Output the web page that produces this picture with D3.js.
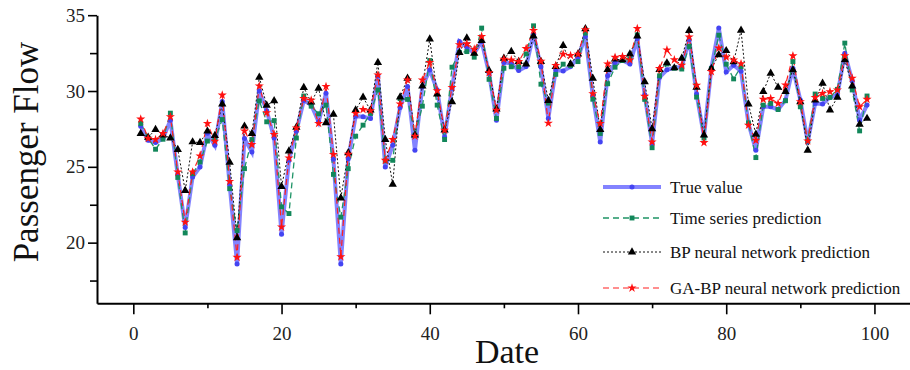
<!DOCTYPE html>
<html>
<head>
<meta charset="utf-8">
<script src="https://cdn.jsdelivr.net/npm/d3@7"></script>
<style>
  html, body { margin: 0; padding: 0; background: #fff; }
  svg { display: block; }
</style>
</head>
<body>
<div id="chart"></div>
<script>
// passenger flow per date
const dates = d3.range(1, 100);

const trueValue = [
  27.68, 26.75, 26.6, 26.87, 28.08, 24.47, 21.0, 24.33, 24.99, 27.22,
  26.42, 29.3, 23.8, 18.59, 26.87, 25.98, 30.0, 28.7, 26.9, 20.55,
  25.43, 27.35, 29.38, 29.1, 27.97, 29.85, 25.5, 18.59, 25.54, 28.34,
  28.3, 28.19, 30.99, 24.99, 26.42, 28.92, 30.29, 26.09, 30.29, 31.39,
  30.07, 26.97, 30.18, 33.27, 32.89, 32.49, 33.27, 31.17, 28.08, 31.88,
  31.83, 31.35, 31.61, 33.75, 31.6, 28.19, 31.39, 31.32, 31.61, 32.21,
  33.6, 29.7, 26.64, 31.0, 31.86, 32.01, 31.78, 33.45, 29.73, 26.53,
  30.9, 31.4, 31.53, 31.58, 33.4, 29.8, 27.0, 31.53, 34.15, 31.26,
  31.7, 31.3, 27.86, 26.09, 28.96, 28.96, 28.78, 29.4, 31.5, 29.4,
  26.64, 29.18, 29.14, 29.58, 29.73, 32.49, 30.68, 28.08, 29.07
];

const timeSeries = [
  27.86, 26.9, 26.16, 26.82, 28.54, 24.3, 20.64, 24.55, 25.32, 26.7,
  26.8, 28.12, 23.56, 20.8, 24.88, 26.8, 29.35, 27.97, 28.05, 22.36,
  21.92, 26.9, 29.67, 29.0, 28.5, 29.07, 24.5, 21.68, 24.88, 27.02,
  27.75, 28.52, 30.07, 25.39, 25.43, 29.5, 29.45, 27.09, 29.0, 32.01,
  29.07, 26.8, 31.57, 32.54, 32.6, 32.23, 34.15, 30.77, 28.19, 31.5,
  31.6, 31.6, 32.45, 34.3, 30.45, 29.2, 31.1, 31.77, 31.68, 31.94,
  33.82, 29.46, 27.2, 30.48, 31.57, 32.01, 32.1, 33.7, 29.45, 26.26,
  31.0, 31.78, 31.5, 31.45, 32.94, 29.6, 26.9, 31.48, 33.68, 31.77,
  30.8, 31.6, 27.9, 25.61, 29.07, 29.18, 28.78, 29.36, 31.94, 28.96,
  26.7, 29.8, 29.51, 29.58, 30.11, 33.16, 30.07, 27.37, 29.67
];

const bpNetwork = [
  27.2, 26.95, 27.46, 27.1, 26.9, 26.14, 23.44, 26.64, 26.6, 27.35,
  27.06, 29.14, 25.3, 20.31, 27.68, 27.2, 30.9, 29.05, 29.35, 23.7,
  26.04, 27.6, 30.22, 29.27, 30.18, 27.9, 28.46, 22.94, 25.92, 28.74,
  29.58, 28.74, 31.88, 26.8, 23.84, 29.6, 30.84, 27.09, 30.33, 33.42,
  29.8, 27.42, 29.29, 32.54, 33.49, 32.49, 33.33, 31.35, 28.8, 32.16,
  32.6, 31.94, 31.78, 33.62, 31.94, 29.37, 31.61, 33.0, 31.77, 32.43,
  34.1, 30.84, 27.45, 31.41, 32.1, 32.05, 32.44, 33.62, 30.6, 27.5,
  31.41, 31.85, 31.52, 32.16, 33.98, 30.25, 27.1, 31.48, 32.38, 32.66,
  31.92, 34.0, 29.14, 27.15, 29.96, 31.17, 30.24, 29.96, 31.39, 29.29,
  26.09, 29.4, 30.51, 28.74, 29.58, 32.05, 30.33, 27.81, 28.19
];

const gaBpNetwork = [
  28.15, 26.88, 26.8, 27.2, 28.3, 24.66, 21.35, 24.66, 25.72, 27.86,
  26.69, 29.73, 24.04, 19.03, 27.37, 26.47, 30.33, 28.57, 27.14, 21.03,
  25.58, 27.57, 29.5, 29.4, 27.86, 30.3, 25.82, 19.07, 25.83, 28.52,
  28.78, 28.7, 31.06, 25.43, 26.8, 29.15, 30.73, 27.02, 30.73, 31.88,
  30.02, 27.42, 30.24, 33.05, 33.11, 32.76, 33.6, 31.21, 28.74, 32.1,
  32.05, 31.94, 32.8, 34.0, 31.96, 27.88, 31.68, 32.43, 32.34, 32.43,
  34.04, 29.82, 27.86, 31.78, 32.22, 32.27, 32.05, 34.12, 29.65, 26.64,
  31.48, 32.71, 32.06, 31.7, 33.56, 30.38, 26.6, 31.28, 32.83, 32.24,
  32.05, 31.8, 27.75, 26.75, 29.45, 29.51, 29.18, 30.4, 32.32, 29.29,
  26.71, 29.58, 29.84, 29.96, 30.07, 32.32, 30.84, 28.96, 29.45
];

const xTicks = [0, 20, 40, 60, 80, 100];
const xMinorTicks = [10, 30, 50, 70, 90];
const yTicks = [20, 25, 30, 35];
const yMinorTicks = [17.5, 22.5, 27.5, 32.5];

const series = [
  { name: "True value", values: trueValue, line: "rgba(100,100,255,0.8)", width: 4, dash: null, mark: "circle", fill: "#4444f2" },
  { name: "Time series prediction", values: timeSeries, line: "#1f9466", width: 1.3, dash: "6,4", mark: "square", fill: "#12875a" },
  { name: "BP neural network prediction", values: bpNetwork, line: "#111", width: 1, dash: "2,2", mark: "triangle", fill: "#000" },
  { name: "GA-BP neural network prediction", values: gaBpNetwork, line: "#ff2020", width: 1.2, dash: "6,4", mark: "star", fill: "#ff1010" }
];

const W = 910, H = 370;
const serif = "'Liberation Serif', 'Times New Roman', serif";

const svg = d3.select("#chart").append("svg")
  .attr("width", W)
  .attr("height", H);

const x = d3.scaleLinear().domain([-4.9, 105]).range([97, 911.5]);
const y = d3.scaleLinear().domain([16, 35]).range([303.3, 15.2]);

const symbols = {
  circle: d3.symbol().type(d3.symbolCircle).size(20),
  square: d3.symbol().type(d3.symbolSquare).size(24),
  triangle: d3.symbol().type(d3.symbolTriangle).size(30),
  star: d3.symbol().type(d3.symbolStar).size(26)
};

// axes
svg.append("g")
  .attr("transform", `translate(0,${y(16)})`)
  .call(d3.axisBottom(x).tickValues(xTicks).tickSize(11).tickSizeOuter(0).tickPadding(12));
svg.append("g")
  .attr("transform", `translate(0,${y(16)})`)
  .call(d3.axisBottom(x).tickValues(xMinorTicks).tickSize(5).tickFormat(""))
  .call(g => g.select(".domain").remove());

svg.append("g")
  .attr("transform", `translate(${x(-4.9)},0)`)
  .call(d3.axisLeft(y).tickValues(yTicks).tickSize(9).tickSizeOuter(0).tickPadding(3));
svg.append("g")
  .attr("transform", `translate(${x(-4.9)},0)`)
  .call(d3.axisLeft(y).tickValues(yMinorTicks).tickSize(7).tickFormat(""))
  .call(g => g.select(".domain").remove());

svg.selectAll(".domain").attr("stroke", "#000").attr("stroke-width", 2);
svg.selectAll(".tick line").attr("stroke", "#000").attr("stroke-width", 1.6);
svg.selectAll(".tick text")
  .attr("font-family", serif)
  .attr("font-size", 19)
  .attr("fill", "#222");

// series lines + markers
const line = d3.line()
  .x((d, i) => x(dates[i]))
  .y(d => y(d));

series.forEach(s => {
  svg.append("path")
    .datum(s.values)
    .attr("d", line)
    .attr("fill", "none")
    .attr("stroke", s.line)
    .attr("stroke-width", s.width)
    .attr("stroke-dasharray", s.dash);
});

series.forEach(s => {
  svg.append("g")
    .selectAll("path")
    .data(s.values)
    .join("path")
    .attr("d", symbols[s.mark])
    .attr("transform", (d, i) => `translate(${x(dates[i])},${y(d)})`)
    .attr("fill", s.fill);
});

// legend
const legend = svg.append("g");
const legendY = [187, 218, 252, 288];
series.forEach((s, i) => {
  const row = legend.append("g").attr("transform", `translate(603,${legendY[i]})`);
  row.append("line")
    .attr("x1", 0).attr("x2", 58)
    .attr("stroke", s.line)
    .attr("stroke-width", s.width)
    .attr("stroke-dasharray", s.dash);
  row.append("path")
    .attr("d", symbols[s.mark])
    .attr("transform", "translate(29,0)")
    .attr("fill", s.fill);
  row.append("text")
    .attr("x", 67)
    .attr("dy", "0.35em")
    .attr("font-family", serif)
    .attr("font-size", 17)
    .attr("fill", "#111")
    .text(s.name);
});

// axis titles
svg.append("text")
  .attr("x", 507)
  .attr("y", 363)
  .attr("text-anchor", "middle")
  .attr("font-family", serif)
  .attr("font-size", 34)
  .attr("fill", "#111")
  .text("Date");

svg.append("text")
  .attr("transform", `translate(38,${152}) rotate(-90)`)
  .attr("text-anchor", "middle")
  .attr("font-family", serif)
  .attr("font-size", 35)
  .attr("fill", "#111")
  .text("Passenger Flow");
</script>
</body>
</html>
